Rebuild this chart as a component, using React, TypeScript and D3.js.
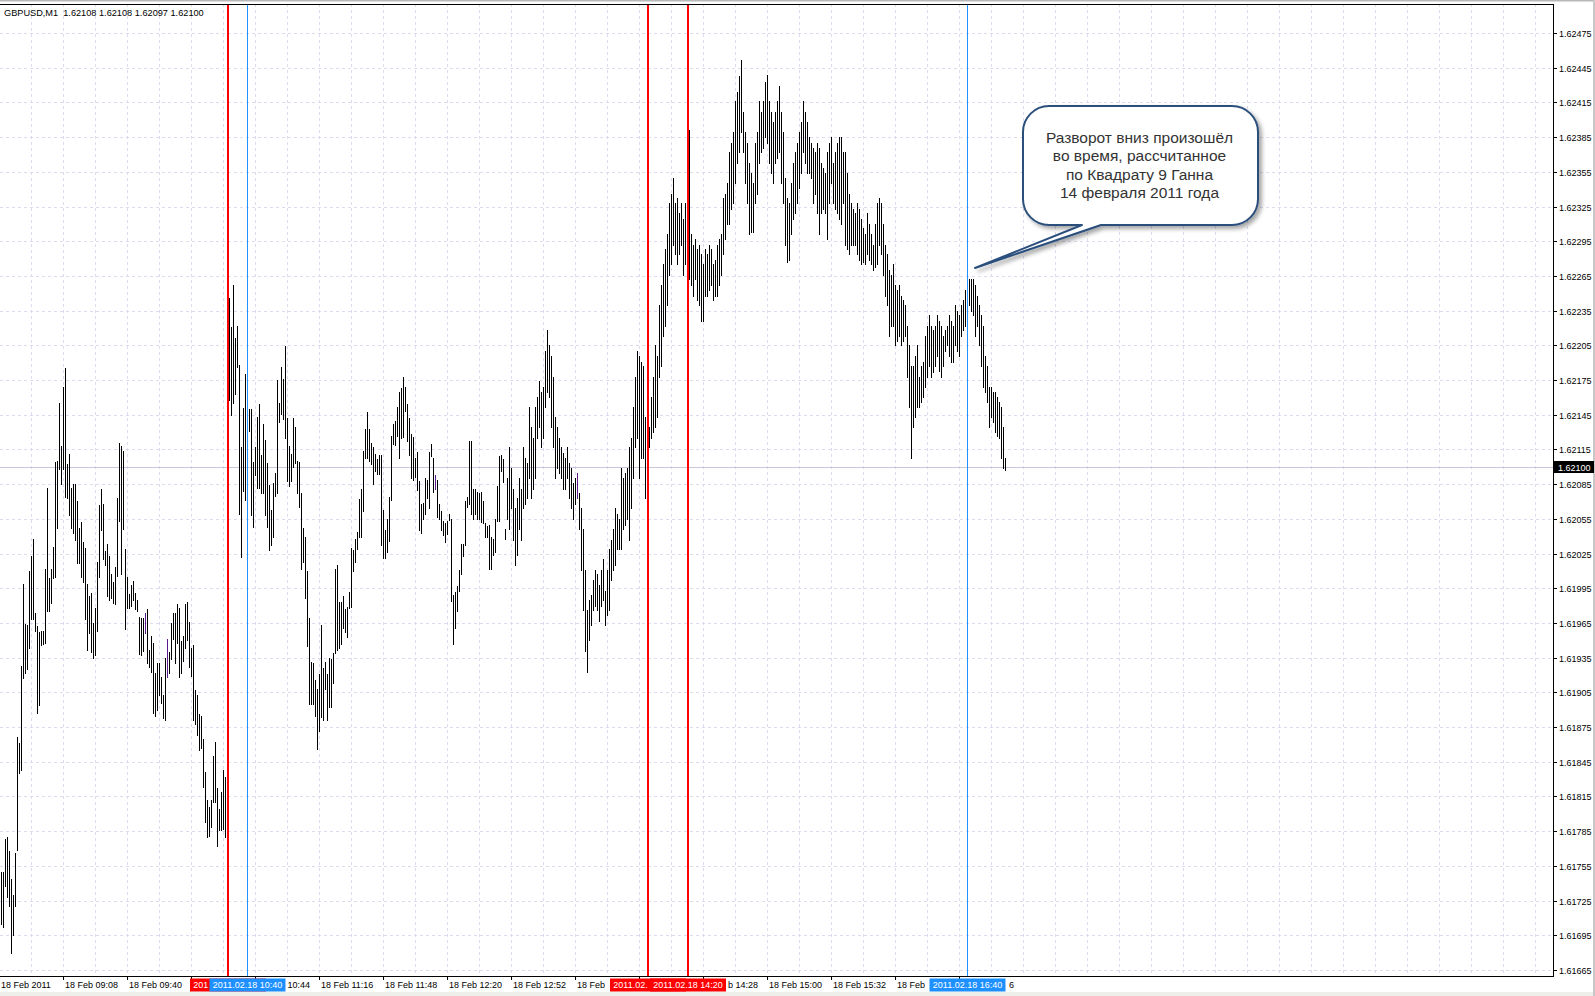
import React from "react";
import * as d3 from "d3";

// ---- Chart data -----------------------------------------------------------
const symbolTitle = "GBPUSD,M1  1.62108 1.62108 1.62097 1.62100";

// M1 bars of 18 Feb 2011, first bar at 08:37, one bar per minute.
const firstBarTime = "08:37";
const priceBase = 1.6;
const pointSize = 0.00001;

// Bar highs, in points above 1.60000
const barHighs = [
  1750, 1750, 1778, 1780, 1768, 1744, 1730, 1766, 1866, 1861,
  1928, 1999, 1964, 1963, 2010, 2023, 2038, 1974, 1962, 1957,
  1958, 1958, 2012, 2082, 2004, 2012, 2031, 2104, 2105, 2155,
  2118, 2169, 2185, 2102, 2111, 2082, 2085, 2085, 2070, 2047,
  2052, 2035, 2030, 1999, 1988, 1991, 1965, 1978, 2018, 2067,
  2081, 2068, 2027, 2033, 2023, 2007, 2000, 2013, 2073, 2121,
  2118, 2114, 2029, 2005, 1990, 1998, 2001, 1991, 1985, 1970,
  1969, 1969, 1974, 1977, 1942, 1954, 1948, 1922, 1930, 1930,
  1918, 1903, 1935, 1951, 1940, 1965, 1974, 1974, 1981, 1978,
  1949, 1954, 1981, 1983, 1966, 1943, 1946, 1907, 1903, 1886,
  1885, 1865, 1836, 1812, 1806, 1812, 1850, 1862, 1822, 1804,
  1819, 1838, 1832, 2250, 2246, 2221, 2257, 2211, 2222, 2188,
  2117, 2151, 2180, 2160, 2150, 2150, 2104, 2117, 2143, 2154,
  2110, 2137, 2123, 2103, 2084, 2063, 2086, 2095, 2175, 2155,
  2186, 2176, 2204, 2142, 2118, 2111, 2142, 2134, 2105, 2104,
  2077, 2047, 2039, 2010, 1969, 1931, 1930, 1916, 1908, 1921,
  1963, 1926, 1931, 1921, 1935, 1934, 1939, 2012, 2015, 1983,
  1983, 1988, 1977, 1979, 1992, 2030, 2028, 2038, 2044, 2072,
  2081, 2114, 2133, 2147, 2133, 2121, 2117, 2111, 2107, 2110,
  2110, 2063, 2045, 2055, 2074, 2127, 2137, 2140, 2152, 2165,
  2168, 2178, 2169, 2154, 2142, 2128, 2126, 2108, 2113, 2088,
  2068, 2069, 2090, 2089, 2113, 2120, 2108, 2093, 2089, 2068,
  2062, 2053, 2051, 2053, 2059, 2055, 1989, 1992, 1997, 2011,
  2033, 2033, 2070, 2074, 2122, 2122, 2081, 2081, 2078, 2077,
  2078, 2070, 2051, 2049, 2050, 2039, 2038, 2055, 2083, 2109,
  2110, 2107, 2046, 2090, 2117, 2099, 2081, 2064, 2073, 2090,
  2081, 2117, 2108, 2103, 2152, 2134, 2125, 2152, 2160, 2174,
  2165, 2169, 2200, 2218, 2205, 2196, 2178, 2143, 2134, 2125,
  2117, 2112, 2108, 2117, 2103, 2099, 2086, 2090, 2095, 2077,
  2064, 2046, 2011, 1976, 1985, 1989, 2002, 2011, 2007, 1998,
  2011, 2020, 1993, 2011, 2029, 2037, 2046, 2064, 2059, 2055,
  2099, 2090, 2095, 2099, 2117, 2125, 2152, 2178, 2200, 2196,
  2191, 2187, 2143, 2152, 2134, 2160, 2178, 2205, 2196, 2240,
  2257, 2275, 2288, 2301, 2328, 2336, 2350, 2328, 2332, 2319,
  2328, 2314, 2328, 2330, 2391, 2301, 2292, 2297, 2288, 2292,
  2284, 2275, 2288, 2284, 2292, 2288, 2275, 2279, 2292, 2297,
  2301, 2332, 2336, 2345, 2372, 2380, 2389, 2416, 2424, 2438,
  2452, 2407, 2389, 2380, 2363, 2354, 2345, 2380, 2389, 2416,
  2407, 2416, 2433, 2439, 2416, 2407, 2398, 2407, 2416, 2429,
  2407, 2389, 2350, 2332, 2328, 2345, 2363, 2372, 2380, 2389,
  2398, 2416, 2407, 2398, 2385, 2380, 2376, 2372, 2380, 2376,
  2363, 2358, 2354, 2372, 2380, 2385, 2363, 2372, 2380, 2385,
  2385, 2372, 2372, 2354, 2336, 2328, 2323, 2319, 2328, 2323,
  2314, 2306, 2301, 2319, 2310, 2301, 2292, 2310, 2328, 2332,
  2328, 2310, 2292, 2284, 2270, 2266, 2275, 2257, 2253, 2257,
  2248, 2244, 2240, 2222, 2205, 2187, 2187, 2196, 2205, 2178,
  2187, 2191, 2213, 2222, 2231, 2222, 2218, 2222, 2231, 2226,
  2222, 2213, 2218, 2222, 2231, 2226, 2222, 2240, 2235, 2231,
  2240, 2244, 2253, 2257, 2262, 2262, 2262, 2257, 2248, 2240,
  2231, 2222, 2196, 2187, 2169, 2169, 2165, 2165, 2160, 2156,
  2152, 2134, 2108,
];

// Bar lows, in points above 1.60000
const barLows = [
  1705, 1702, 1738, 1728, 1720, 1680, 1695, 1720, 1769, 1835,
  1838, 1917, 1922, 1925, 1943, 1968, 1968, 1958, 1887, 1894,
  1946, 1947, 1948, 1975, 1975, 1982, 2004, 2005, 2047, 2098,
  2085, 2098, 2074, 2073, 2058, 2047, 2043, 2037, 2017, 2017,
  2005, 2000, 1968, 1942, 1956, 1940, 1935, 1937, 1958, 2005,
  2045, 2020, 2015, 1988, 1985, 1987, 1982, 1981, 2006, 2053,
  2007, 2046, 1960, 1978, 1978, 1980, 1985, 1977, 1975, 1938,
  1937, 1941, 1956, 1930, 1927, 1923, 1887, 1885, 1890, 1903,
  1896, 1883, 1881, 1918, 1922, 1934, 1951, 1930, 1948, 1918,
  1922, 1932, 1943, 1950, 1927, 1919, 1881, 1878, 1868, 1855,
  1857, 1823, 1793, 1780, 1781, 1789, 1810, 1810, 1772, 1786,
  1786, 1787, 1780, 1778, 2158, 2145, 2155, 2163, 2186, 2059,
  2022, 2079, 2071, 2110, 2131, 2058, 2048, 2093, 2082, 2082,
  2077, 2077, 2058, 2048, 2028, 2032, 2039, 2075, 2077, 2139,
  2146, 2141, 2125, 2088, 2083, 2088, 2100, 2103, 2077, 2065,
  2012, 2018, 1987, 1945, 1895, 1895, 1895, 1885, 1856, 1872,
  1884, 1881, 1908, 1881, 1892, 1892, 1913, 1939, 1942, 1943,
  1947, 1961, 1957, 1953, 1978, 1979, 2010, 2018, 2029, 2039,
  2039, 2062, 2108, 2108, 2105, 2102, 2085, 2096, 2094, 2094,
  2032, 2021, 2021, 2026, 2036, 2071, 2120, 2119, 2127, 2108,
  2125, 2126, 2148, 2122, 2110, 2090, 2089, 2091, 2080, 2045,
  2043, 2055, 2059, 2073, 2064, 2109, 2078, 2081, 2057, 2055,
  2045, 2041, 2035, 2042, 2054, 1984, 1947, 1961, 1975, 1993,
  2007, 2023, 2032, 2065, 2068, 2059, 2055, 2059, 2055, 2055,
  2052, 2051, 2039, 2039, 2012, 2012, 2024, 2026, 2053, 2053,
  2096, 2087, 2038, 2055, 2046, 2064, 2037, 2015, 2024, 2046,
  2037, 2064, 2068, 2073, 2090, 2073, 2081, 2090, 2125, 2134,
  2117, 2125, 2152, 2165, 2160, 2134, 2117, 2090, 2099, 2095,
  2090, 2081, 2081, 2090, 2073, 2064, 2055, 2068, 2073, 2046,
  2011, 1976, 1941, 1923, 1950, 1963, 1976, 1980, 1976, 1967,
  1980, 1985, 1963, 1972, 1976, 2002, 2011, 2015, 2029, 2029,
  2029, 2046, 2050, 2055, 2037, 2064, 2090, 2117, 2125, 2090,
  2108, 2108, 2073, 2071, 2117, 2125, 2130, 2134, 2143, 2178,
  2187, 2213, 2222, 2240, 2266, 2275, 2292, 2284, 2275, 2284,
  2292, 2266, 2275, 2301, 2262, 2257, 2248, 2262, 2244, 2240,
  2226, 2226, 2248, 2248, 2253, 2257, 2244, 2248, 2248, 2257,
  2266, 2284, 2297, 2310, 2310, 2323, 2328, 2345, 2363, 2372,
  2389, 2372, 2345, 2328, 2301, 2303, 2303, 2328, 2336, 2363,
  2372, 2376, 2385, 2380, 2363, 2354, 2345, 2363, 2367, 2372,
  2345, 2328, 2292, 2277, 2279, 2301, 2314, 2319, 2328, 2341,
  2354, 2372, 2363, 2354, 2354, 2350, 2328, 2336, 2319, 2301,
  2319, 2323, 2319, 2297, 2328, 2345, 2328, 2323, 2319, 2314,
  2310, 2328, 2292, 2288, 2284, 2292, 2292, 2292, 2284, 2279,
  2275, 2277, 2275, 2284, 2279, 2275, 2270, 2273, 2275, 2292,
  2284, 2266, 2248, 2240, 2213, 2222, 2222, 2205, 2209, 2213,
  2205, 2209, 2213, 2178, 2152, 2108, 2134, 2143, 2152, 2152,
  2156, 2160, 2169, 2178, 2187, 2178, 2182, 2187, 2196, 2183,
  2178, 2187, 2200, 2205, 2196, 2191, 2191, 2205, 2200, 2196,
  2213, 2218, 2222, 2231, 2240, 2235, 2231, 2213, 2222, 2205,
  2187, 2169, 2165, 2156, 2134, 2143, 2139, 2130, 2127, 2125,
  2108, 2099, 2097,
];

// Bars whose open equals close are painted in the doji colour
const dojiBars = [72, 83, 217, 288];

const priceTicks = [
  1.62475, 1.62445, 1.62415, 1.62385, 1.62355, 1.62325, 1.62295,
  1.62265, 1.62235, 1.62205, 1.62175, 1.62145, 1.62115, 1.62085,
  1.62055, 1.62025, 1.61995, 1.61965, 1.61935, 1.61905, 1.61875,
  1.61845, 1.61815, 1.61785, 1.61755, 1.61725, 1.61695, 1.61665,
];
const lastPrice = 1.621;

const timeLabelTimes = [
  "08:36", "09:08", "09:40", "10:12", "10:44", "11:16", "11:48", "12:20",
  "12:52", "13:24", "13:56", "14:28", "15:00", "15:32", "16:04", "16:36",
];
const timeLabelTexts = [
  "18 Feb 2011", "18 Feb 09:08", "18 Feb 09:40", "18 Feb 10:12",
  "18 Feb 10:44", "18 Feb 11:16", "18 Feb 11:48", "18 Feb 12:20",
  "18 Feb 12:52", "18 Feb 13:24", "18 Feb 13:56", "18 Feb 14:28",
  "18 Feb 15:00", "18 Feb 15:32", "18 Feb 16:04", "18 Feb 16:36",
];

// Vertical time lines
const markerTimes = ["10:30", "10:40", "14:00", "14:20", "16:40"];
const markerLabels = [
  "2011.02.18 10:30", "2011.02.18 10:40", "2011.02.18 14:00",
  "2011.02.18 14:20", "2011.02.18 16:40",
];
const markerColors = ["#ff0000", "#1e90ff", "#ff0000", "#ff0000", "#1e90ff"];
const markerWidths = [2, 1, 2, 2, 1];

const calloutLines = [
  "Разворот вниз произошёл",
  "во время, рассчитанное",
  "по Квадрату 9 Ганна",
  "14 февраля 2011 года",
];

// ---- Layout ---------------------------------------------------------------
const W = 1595;
const H = 996;
const PLOT_LEFT = 0;
const PLOT_RIGHT = 1553;
const PLOT_TOP = 4;
const PLOT_BOTTOM = 976;
const FONT = "'Liberation Sans', Arial, sans-serif";
const AXIS_FONT_SIZE = 9;
const GRID = "#dcdcf0";
const MARKER_BOX_W = 76;

const toMinutes = (hhmm: string) => {
  const [h, m] = hhmm.split(":").map(Number);
  return h * 60 + m;
};

// Text width measurement for the axis font
let measureCtx: CanvasRenderingContext2D | null = null;
const textWidth = (s: string) => {
  if (!measureCtx) {
    measureCtx = document.createElement("canvas").getContext("2d");
  }
  if (!measureCtx) return s.length * 5;
  measureCtx.font = `${AXIS_FONT_SIZE}px 'Liberation Sans', Arial, sans-serif`;
  return measureCtx.measureText(s).width;
};

type Span = { text: string; x: number };

// Pieces of a label starting at x0 that are not hidden by the given boxes
const visiblePieces = (label: string, x0: number, boxes: [number, number][]): Span[] => {
  const pieces: Span[] = [];
  let cur = "";
  let curX = 0;
  for (let k = 0; k < label.length; k++) {
    const a = x0 + textWidth(label.slice(0, k));
    const b = x0 + textWidth(label.slice(0, k + 1));
    const hidden = boxes.some(([l, r]) => b > l + 1 && a < r - 1);
    if (!hidden) {
      if (cur === "") curX = a;
      cur += label[k];
    } else if (cur !== "") {
      pieces.push({ text: cur, x: curX });
      cur = "";
    }
  }
  if (cur !== "") pieces.push({ text: cur, x: curX });
  return pieces.filter((p) => p.text.trim() !== "");
};

export default function App() {
  const x = d3
    .scaleLinear()
    .domain([toMinutes("09:08"), toMinutes("16:40")])
    .range([63, 967]);
  const y = d3.scaleLinear().domain([1.61665, 1.62475]).range([970, 33]);

  const first = toMinutes(firstBarTime);
  const n = Math.min(barHighs.length, barLows.length);
  const bars = d3.range(n).map((i) => ({
    t: first + i,
    high: priceBase + barHighs[i] * pointSize,
    low: priceBase + barLows[i] * pointSize,
    doji: dojiBars.includes(i),
  }));

  // vertical grid every 16 minutes, anchored on the time labels
  const gridStep = 16;
  const gridStart = toMinutes(timeLabelTimes[0]);
  const vGrid: number[] = [];
  for (let t = gridStart; x(t) < PLOT_RIGHT; t += gridStep) {
    if (x(t) > PLOT_LEFT) vGrid.push(Math.round(x(t)) + 0.5);
  }

  const yLast = Math.round(y(lastPrice)) + 0.5;

  // time-line label boxes on the time axis
  const markerBoxes = markerTimes.map((t, i) => {
    const mx = Math.round(x(toMinutes(t))) + markerWidths[i] / 2;
    return { mx, l: mx - MARKER_BOX_W / 2, r: mx + MARKER_BOX_W / 2 };
  });
  const allBoxes: [number, number][] = markerBoxes.map((b) => [b.l, b.r]);

  // callout balloon geometry
  const cb = { x0: 1023, y0: 106, x1: 1258, y1: 225, r: 26 };
  const tip = { x: 975, y: 268 };
  const baseA = 1082;
  const baseB = 1101;
  const balloon = [
    `M${cb.x0 + cb.r},${cb.y0}`,
    `H${cb.x1 - cb.r}`,
    `A${cb.r},${cb.r} 0 0 1 ${cb.x1},${cb.y0 + cb.r}`,
    `V${cb.y1 - cb.r}`,
    `A${cb.r},${cb.r} 0 0 1 ${cb.x1 - cb.r},${cb.y1}`,
    `H${baseB}`,
    `L${tip.x},${tip.y}`,
    `L${baseA},${cb.y1}`,
    `H${cb.x0 + cb.r}`,
    `A${cb.r},${cb.r} 0 0 1 ${cb.x0},${cb.y1 - cb.r}`,
    `V${cb.y0 + cb.r}`,
    `A${cb.r},${cb.r} 0 0 1 ${cb.x0 + cb.r},${cb.y0}`,
    "Z",
  ].join(" ");
  const cx = (cb.x0 + cb.x1) / 2 - 1;

  return (
    <svg
      width={W}
      height={H}
      viewBox={`0 0 ${W} ${H}`}
      style={{ position: "absolute", left: 0, top: 0, display: "block" }}
      fontFamily={FONT}
    >
      <defs>
        <filter id="balloonShadow" x="-10%" y="-10%" width="130%" height="140%">
          <feDropShadow dx="3" dy="3" stdDeviation="2" floodColor="#000" floodOpacity="0.35" />
        </filter>
        <clipPath id="plotClip">
          <rect x={PLOT_LEFT} y={PLOT_TOP + 1} width={PLOT_RIGHT - PLOT_LEFT} height={PLOT_BOTTOM - PLOT_TOP - 1} />
        </clipPath>
      </defs>

      <rect x={0} y={0} width={W} height={H} fill="#ffffff" />
      {/* window chrome */}
      <rect x={0} y={0} width={W} height={1.5} fill="#b8b8b8" />
      <rect x={0} y={992} width={W} height={4} fill="#eeeeea" />
      <rect x={1593} y={0} width={2} height={H} fill="#c8c8c8" />

      {/* grid */}
      <g stroke={GRID} strokeWidth={1} strokeDasharray="3,3" clipPath="url(#plotClip)">
        {priceTicks.map((p) => (
          <line key={`h${p}`} x1={PLOT_LEFT} x2={PLOT_RIGHT} y1={Math.round(y(p)) + 0.5} y2={Math.round(y(p)) + 0.5} />
        ))}
        {vGrid.map((gx) => (
          <line key={`v${gx}`} x1={gx} x2={gx} y1={PLOT_TOP} y2={PLOT_BOTTOM} />
        ))}
      </g>

      {/* last price level */}
      <line x1={PLOT_LEFT} x2={PLOT_RIGHT} y1={yLast} y2={yLast} stroke="#c6c6e0" strokeWidth={1} />

      {/* price bars */}
      <g clipPath="url(#plotClip)">
        {bars.map((b, i) => {
          const top = Math.round(y(b.high));
          const bottom = Math.round(y(b.low));
          return (
            <rect
              key={i}
              x={Math.round(x(b.t))}
              y={top}
              width={1}
              height={Math.max(1, bottom - top + 1)}
              fill={b.doji ? "#5b1a8c" : "#000000"}
            />
          );
        })}
      </g>

      {/* vertical time lines */}
      {markerTimes.map((t, i) => (
        <rect
          key={`m${i}`}
          x={Math.round(x(toMinutes(t)))}
          y={PLOT_TOP + 1}
          width={markerWidths[i]}
          height={PLOT_BOTTOM - PLOT_TOP - 1}
          fill={markerColors[i]}
        />
      ))}

      {/* callout */}
      <path d={balloon} fill="#ffffff" stroke="#2c4f7c" strokeWidth={2} strokeLinejoin="round" filter="url(#balloonShadow)" />
      <g fontSize={15.5} fill="#333333" textAnchor="middle">
        {calloutLines.map((line, i) => (
          <text key={i} x={cx} y={143 + i * 18.4}>
            {line}
          </text>
        ))}
      </g>

      {/* frame */}
      <line x1={0} x2={PLOT_RIGHT + 1} y1={PLOT_TOP + 0.5} y2={PLOT_TOP + 0.5} stroke="#000" />
      <line x1={PLOT_RIGHT + 0.5} x2={PLOT_RIGHT + 0.5} y1={PLOT_TOP} y2={PLOT_BOTTOM + 1} stroke="#000" />
      <line x1={0} x2={PLOT_RIGHT + 1} y1={PLOT_BOTTOM + 0.5} y2={PLOT_BOTTOM + 0.5} stroke="#000" />

      {/* title */}
      <text x={4} y={16} fontSize={9.2} fill="#000" style={{ whiteSpace: "pre" }}>
        {symbolTitle}
      </text>

      {/* price axis */}
      <g fontSize={AXIS_FONT_SIZE} fill="#000">
        {priceTicks.map((p) => {
          const py = Math.round(y(p)) + 0.5;
          return (
            <g key={`t${p}`}>
              <line x1={PLOT_RIGHT} x2={PLOT_RIGHT + 4} y1={py} y2={py} stroke="#000" />
              <text x={1559} y={py + 3.2}>
                {d3.format(".5f")(p)}
              </text>
            </g>
          );
        })}
      </g>
      <rect x={PLOT_RIGHT + 1} y={yLast - 6.5} width={40} height={12} fill="#000" />
      <text x={1558} y={yLast + 3.2} fontSize={AXIS_FONT_SIZE} fill="#fff">
        {d3.format(".5f")(lastPrice)}
      </text>

      {/* time axis; labels under the time-line boxes stay hidden */}
      <g fontSize={AXIS_FONT_SIZE} fill="#000">
        {timeLabelTimes.map((t, i) => {
          const tx = Math.round(x(toMinutes(t))) + 0.5;
          const x0 = Math.max(1, tx + 1.5);
          const pieces = visiblePieces(timeLabelTexts[i], x0, allBoxes);
          return (
            <g key={`tl${t}`}>
              <line x1={tx} x2={tx} y1={PLOT_BOTTOM} y2={PLOT_BOTTOM + 4} stroke="#000" />
              {pieces.map((p, k) => (
                <text key={k} x={p.x} y={988} style={{ whiteSpace: "pre" }}>
                  {p.text}
                </text>
              ))}
            </g>
          );
        })}
      </g>

      {/* time-line labels on the axis, later ones drawn over earlier ones */}
      {markerBoxes.map((b, i) => {
        const label = markerLabels[i];
        const x0 = b.mx - textWidth(label) / 2;
        const covering: [number, number][] = markerBoxes.slice(i + 1).map((o) => [o.l, o.r]);
        const pieces = visiblePieces(label, x0, covering);
        return (
          <g key={`ml${i}`}>
            <rect x={b.l} y={978.5} width={MARKER_BOX_W} height={13} fill={markerColors[i]} />
            {pieces.map((p, k) => (
              <text key={k} x={p.x} y={988} fontSize={AXIS_FONT_SIZE} fill="#fff" style={{ whiteSpace: "pre" }}>
                {p.text}
              </text>
            ))}
          </g>
        );
      })}
    </svg>
  );
}
